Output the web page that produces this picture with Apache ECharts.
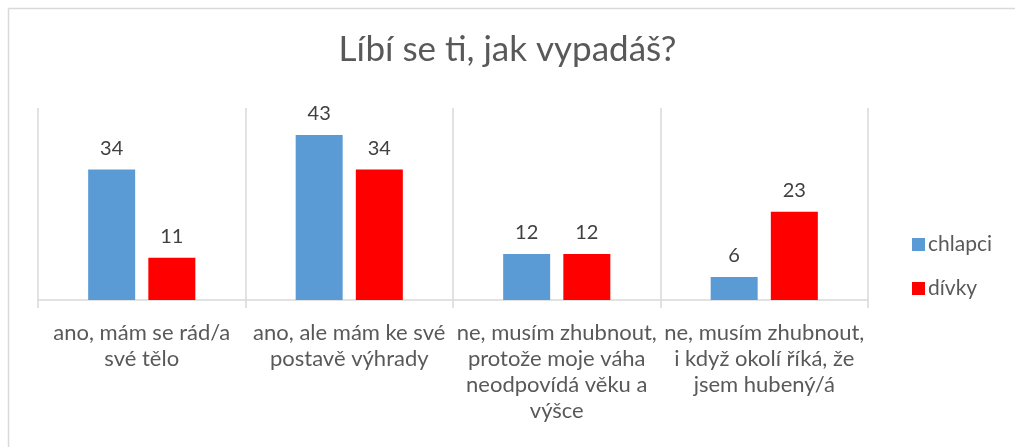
<!DOCTYPE html>
<html><head><meta charset="utf-8">
<script src="https://cdn.jsdelivr.net/npm/echarts@6/dist/echarts.min.js"></script>
<style>html,body{margin:0;padding:0;background:#fff}#c{width:1015px;height:447px}</style>
</head><body><div id="c"></div>
<script>
const title = 'Líbí se ti, jak vypadáš?';
const categories = [
  'ano, mám se rád/a\nsvé tělo',
  'ano, ale mám ke své\npostavě výhrady',
  'ne, musím zhubnout,\nprotože moje váha\nneodpovídá věku a\nvýšce',
  'ne, musím zhubnout,\ni když okolí říká, že\njsem hubený/á'
];
const seriesNames = ['chlapci', 'dívky'];
const chlapci = [34, 43, 12, 6];
const divky = [11, 34, 12, 23];

const chart = echarts.init(document.getElementById('c'), null, {renderer: 'canvas'});
const ff = 'Lato, "Open Sans", sans-serif';
const labelStyle = {show: true, position: 'top', distance: 11, color: '#404040', fontSize: 20, fontFamily: ff};
chart.setOption({
  animation: false,
  backgroundColor: '#fff',
  title: {
    text: title, left: 'center', top: 27,
    textStyle: {color: '#595959', fontSize: 35, fontWeight: 'normal', fontFamily: ff}
  },
  legend: {
    orient: 'vertical', left: 907, top: 229, itemWidth: 13, itemHeight: 13, itemGap: 23,
    icon: 'rect',
    textStyle: {color: '#595959', fontSize: 21, fontFamily: ff, padding: [0, 0, 0, -2]},
    data: seriesNames
  },
  grid: {left: 38, right: 147, top: 108, bottom: 147},
  xAxis: {
    type: 'category', data: categories,
    axisLine: {lineStyle: {color: '#d9d9d9', width: 1.5}},
    axisTick: {show: true, length: 8, lineStyle: {color: '#d9d9d9', width: 1.5}},
    splitLine: {show: true, lineStyle: {color: '#d9d9d9', width: 1.5}},
    axisLabel: {
      interval: 0, margin: 20, color: '#595959', fontSize: 22, lineHeight: 26,
      fontFamily: ff
    }
  },
  yAxis: {type: 'value', min: 0, max: 50, show: false, splitLine: {show: false}},
  graphic: [
    {type: 'line', shape: {x1: 8.5, y1: 8.5, x2: 1015, y2: 8.5}, style: {stroke: '#d9d9d9', lineWidth: 1.5}},
    {type: 'line', shape: {x1: 8.5, y1: 8.5, x2: 8.5, y2: 447}, style: {stroke: '#d9d9d9', lineWidth: 1.5}}
  ],
  series: [
    {name: seriesNames[0], type: 'bar', data: chlapci, barWidth: 47, barGap: '28%',
     itemStyle: {color: '#5b9bd5'}, label: labelStyle},
    {name: seriesNames[1], type: 'bar', data: divky, barWidth: 47,
     itemStyle: {color: '#ff0000'}, label: labelStyle}
  ]
});
</script></body></html>
